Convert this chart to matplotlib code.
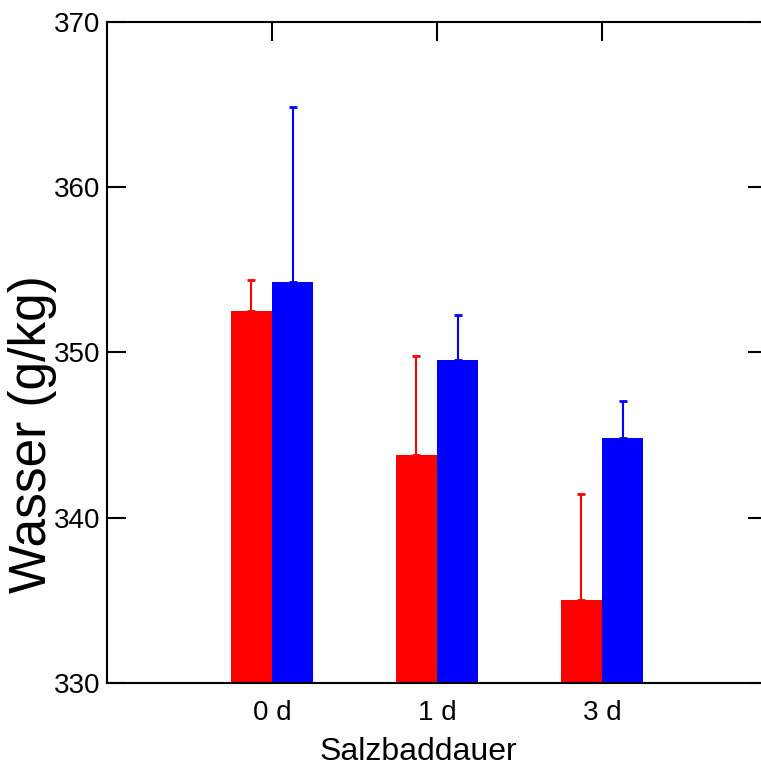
import matplotlib
matplotlib.use("Agg")
import matplotlib.pyplot as plt
import numpy as np

plt.rcParams['font.family'] = ['Liberation Sans', 'DejaVu Sans']

categories = ["0 d", "1 d", "3 d"]
red_means = [352.5, 343.8, 335.05]
red_sd = [1.9, 6.0, 6.4]
blue_means = [354.25, 349.55, 344.8]
blue_sd = [10.6, 2.7, 2.25]
yticks = [330, 340, 350, 360, 370]

W, H = 761, 769
fig = plt.figure(figsize=(W / 100, H / 100), dpi=100)
ax = fig.add_axes([107 / W, (H - 683) / H, (767 - 107) / W, (683 - 22) / H])

x = np.arange(1, len(categories) + 1)
bw = 0.25
err_kw = dict(elinewidth=1.5, capsize=3, capthick=2)
ax.bar(x - bw / 2, red_means, width=bw, color="#ff0000", edgecolor="none")
ax.bar(x + bw / 2, blue_means, width=bw, color="#0000ff", edgecolor="none")
ax.errorbar(x - bw / 2, red_means, yerr=[np.zeros(3), red_sd], fmt="none",
            ecolor="#ff0000", **err_kw)
ax.errorbar(x + bw / 2, blue_means, yerr=[np.zeros(3), blue_sd], fmt="none",
            ecolor="#0000ff", **err_kw)

ax.set_xlim(0, 4)
ax.set_ylim(330, 370)
ax.set_yticks(yticks)
ax.set_xticks(x)
ax.set_xticklabels(categories)

for s in ax.spines.values():
    s.set_linewidth(1.5)

ax.tick_params(axis="y", direction="in", length=14, width=1.5,
               labelsize=20, right=True, pad=5)
# category ticks point inward from the top edge; labels stay below
ax.tick_params(axis="x", direction="in", length=14, width=1.5,
               labelsize=20, top=True, bottom=False, labelbottom=True, pad=12)

fig.text(33 / W, 1 - 434 / H, "Wasser (g/kg)", fontsize=37, rotation=90,
         ha="center", va="center")
fig.text(418 / W, 1 - 752 / H, "Salzbaddauer", fontsize=23,
         ha="center", va="center")

fig.savefig("out.png", dpi=100)
